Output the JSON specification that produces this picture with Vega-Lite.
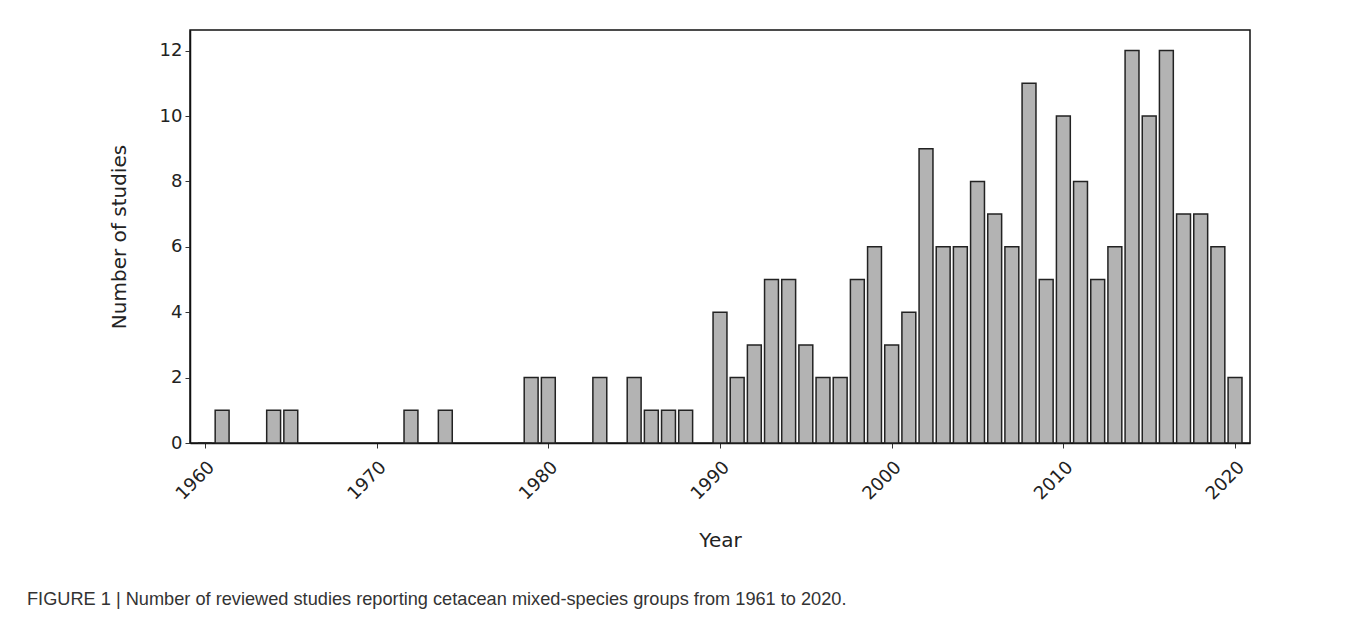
{
  "$schema": "https://vega.github.io/schema/vega-lite/v6.json",
  "autosize": "none",
  "width": 1060,
  "height": 413,
  "padding": {"left": 190, "top": 30, "right": 108, "bottom": 178},
  "background": "white",
  "data": {
    "values": [
      {"year": 1960, "count": 0},
      {"year": 1961, "count": 1},
      {"year": 1964, "count": 1},
      {"year": 1965, "count": 1},
      {"year": 1972, "count": 1},
      {"year": 1974, "count": 1},
      {"year": 1979, "count": 2},
      {"year": 1980, "count": 2},
      {"year": 1983, "count": 2},
      {"year": 1985, "count": 2},
      {"year": 1986, "count": 1},
      {"year": 1987, "count": 1},
      {"year": 1988, "count": 1},
      {"year": 1990, "count": 4},
      {"year": 1991, "count": 2},
      {"year": 1992, "count": 3},
      {"year": 1993, "count": 5},
      {"year": 1994, "count": 5},
      {"year": 1995, "count": 3},
      {"year": 1996, "count": 2},
      {"year": 1997, "count": 2},
      {"year": 1998, "count": 5},
      {"year": 1999, "count": 6},
      {"year": 2000, "count": 3},
      {"year": 2001, "count": 4},
      {"year": 2002, "count": 9},
      {"year": 2003, "count": 6},
      {"year": 2004, "count": 6},
      {"year": 2005, "count": 8},
      {"year": 2006, "count": 7},
      {"year": 2007, "count": 6},
      {"year": 2008, "count": 11},
      {"year": 2009, "count": 5},
      {"year": 2010, "count": 10},
      {"year": 2011, "count": 8},
      {"year": 2012, "count": 5},
      {"year": 2013, "count": 6},
      {"year": 2014, "count": 12},
      {"year": 2015, "count": 10},
      {"year": 2016, "count": 12},
      {"year": 2017, "count": 7},
      {"year": 2018, "count": 7},
      {"year": 2019, "count": 6},
      {"year": 2020, "count": 2}
    ]
  },
  "title": {
    "text": "FIGURE 1 | Number of reviewed studies reporting cetacean mixed-species groups from 1961 to 2020.",
    "orient": "bottom",
    "anchor": "start",
    "frame": "group",
    "dx": -163,
    "offset": 41,
    "font": "Liberation Sans",
    "fontSize": 18.2,
    "fontWeight": "normal",
    "color": "#333333"
  },
  "mark": {
    "type": "bar",
    "width": 13.9,
    "fill": "#b3b3b3",
    "stroke": "#222222",
    "strokeWidth": 1.5
  },
  "encoding": {
    "x": {
      "field": "year",
      "type": "quantitative",
      "scale": {"domain": [1959.42, 2020.58], "nice": false, "zero": false},
      "axis": {
        "title": "Year",
        "values": [1960, 1970, 1980, 1990, 2000, 2010, 2020],
        "format": "d",
        "labelAngle": -45,
        "labelPadding": 10,
        "labelDx": -10.5,
        "labelDy": -10.5,
        "grid": false,
        "titlePadding": 27
      }
    },
    "y": {
      "field": "count",
      "type": "quantitative",
      "scale": {"domain": [0, 12.63], "nice": false},
      "axis": {
        "title": "Number of studies",
        "values": [0, 2, 4, 6, 8, 10, 12],
        "grid": false,
        "labelPadding": 3,
        "titlePadding": 30
      }
    }
  },
  "config": {
    "view": {"stroke": "#111111", "strokeWidth": 1.5},
    "axis": {
      "labelFont": "DejaVu Sans",
      "labelFontSize": 18,
      "labelColor": "#222222",
      "titleFont": "DejaVu Sans",
      "titleFontSize": 20,
      "titleFontWeight": "normal",
      "titleColor": "#222222",
      "tickSize": 5,
      "tickColor": "#333333",
      "domainColor": "#111111",
      "domainWidth": 1.5
    }
  }
}
